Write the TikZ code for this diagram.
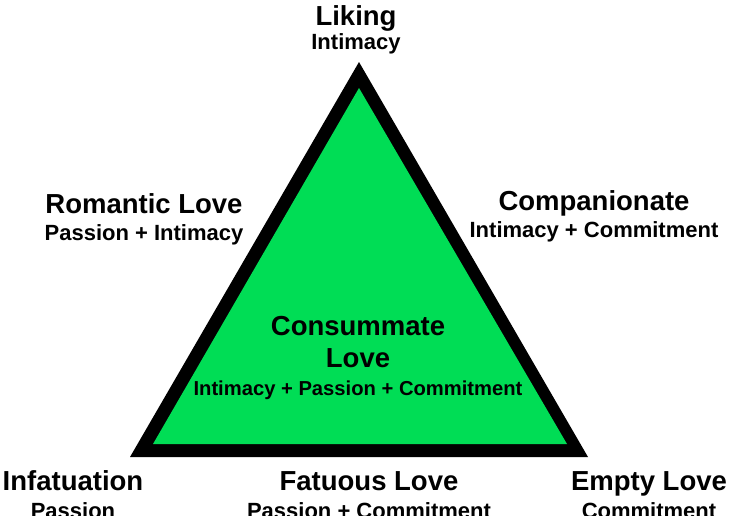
\documentclass[tikz,border=0pt]{standalone}
\usepackage{fontspec}
\setmainfont{Liberation Sans}
\usepackage{xcolor}
\usetikzlibrary{positioning}
\definecolor{lovegreen}{HTML}{00DD55}

\begin{document}
\begin{tikzpicture}[
  x=1pt, y=-1pt,
  title/.style={inner sep=0pt, anchor=base, font=\bfseries\fontsize{27.5}{28}\selectfont},
  sub/.style={inner sep=0pt, anchor=base, font=\bfseries\fontsize{22}{24}\selectfont},
  small/.style={sub, font=\bfseries\fontsize{20.2}{22}\selectfont},
]
  \useasboundingbox (0,0) rectangle (730,515);
  \clip (0,0) rectangle (730,515);

  % triangle: black rim, green inside
  \coordinate (apex) at (359,62);
  \coordinate (left) at (130,457);
  \coordinate (right) at (588,457);
  \fill[black] (apex) -- (left) -- (right) -- cycle;
  \fill[lovegreen] (359,88) -- (153,444) -- (567,444) -- cycle;

  % corners
  \node[title] (liking) at (356,25) {Liking};
  \node[sub, below=24pt of liking.base, anchor=base] (likingsub) {Intimacy};

  \node[title] (infat) at (73,490) {Infatuation};
  \node[sub, below=28pt of infat.base, anchor=base] (infatsub) {Passion};

  \node[title] (empty) at (649,490) {Empty Love};
  \node[sub, below=28pt of empty.base, anchor=base] (emptysub) {Commitment};

  % sides
  \node[title] (romantic) at (144,213) {Romantic Love};
  \node[sub, below=27pt of romantic.base, anchor=base] (romanticsub) {Passion + Intimacy};

  \node[title] (compan) at (594,210) {Companionate};
  \node[sub, below=27pt of compan.base, anchor=base] (compansub) {Intimacy + Commitment};

  \node[title] (fatuous) at (369,490) {Fatuous Love};
  \node[sub, below=28pt of fatuous.base, anchor=base] (fatuoussub) {Passion + Commitment};

  % centre
  \node[title] (consum) at (358,335) {Consummate};
  \node[title, below=32pt of consum.base, anchor=base] (consumlove) {Love};
  \node[small, below=28pt of consumlove.base, anchor=base] (consumsub) {Intimacy + Passion + Commitment};
\end{tikzpicture}
\end{document}
